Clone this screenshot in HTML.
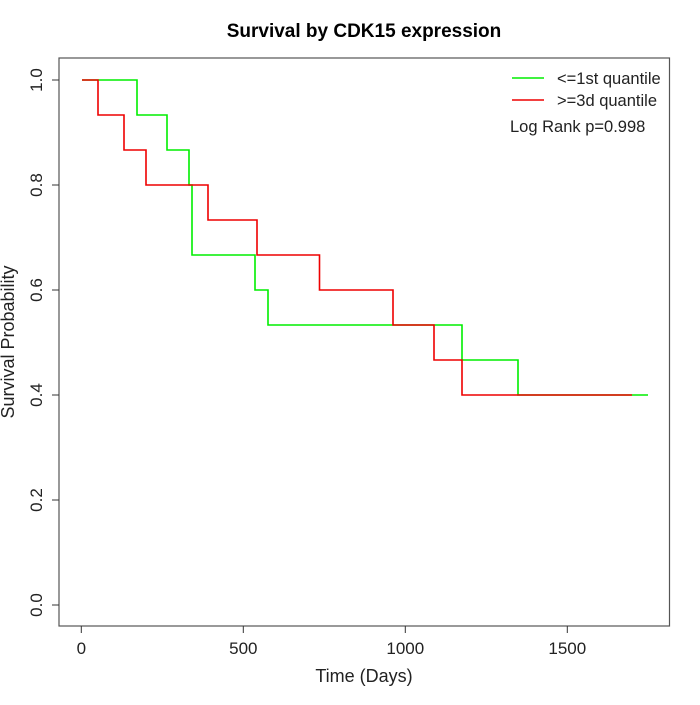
<!DOCTYPE html>
<html><head><style>body{margin:0;background:#fff}</style></head><body>
<svg width="700" height="700" viewBox="0 0 700 700" xmlns="http://www.w3.org/2000/svg" font-family="Liberation Sans, sans-serif">
<rect width="700" height="700" fill="#fff"/>
<text x="364" y="37" text-anchor="middle" font-size="19" font-weight="bold">Survival by CDK15 expression</text>
<rect x="59" y="58" width="610.5" height="568" fill="none" stroke="#555" stroke-width="1.2"/>
<g stroke="#333" stroke-width="1">
<line x1="81.3" y1="626" x2="81.3" y2="633"/><line x1="243.3" y1="626" x2="243.3" y2="633"/><line x1="405.3" y1="626" x2="405.3" y2="633"/><line x1="567.3" y1="626" x2="567.3" y2="633"/>
<line x1="52" y1="80" x2="59" y2="80"/><line x1="52" y1="185" x2="59" y2="185"/><line x1="52" y1="290" x2="59" y2="290"/><line x1="52" y1="395" x2="59" y2="395"/><line x1="52" y1="500" x2="59" y2="500"/><line x1="52" y1="605" x2="59" y2="605"/>
</g>
<g font-size="17" text-anchor="middle" fill="#222">
<text x="81.3" y="654">0</text><text x="243.3" y="654">500</text><text x="405.3" y="654">1000</text><text x="567.3" y="654">1500</text>
<text transform="translate(42,80) rotate(-90)">1.0</text>
<text transform="translate(42,185) rotate(-90)">0.8</text>
<text transform="translate(42,290) rotate(-90)">0.6</text>
<text transform="translate(42,395) rotate(-90)">0.4</text>
<text transform="translate(42,500) rotate(-90)">0.2</text>
<text transform="translate(42,605) rotate(-90)">0.0</text>
</g>
<text x="364" y="682" text-anchor="middle" font-size="18" fill="#222">Time (Days)</text>
<text transform="translate(14,342) rotate(-90)" text-anchor="middle" font-size="18" fill="#222">Survival Probability</text>
<polyline fill="none" stroke="#00ee00" stroke-width="1.6" points="82,80 137,80 137,115 167,115 167,150 189,150 189,185 192,185 192,255 255,255 255,290 268,290 268,325 462,325 462,360 518,360 518,395 648,395"/>
<polyline fill="none" stroke="#ee0000" stroke-width="1.6" points="82,80 98,80 98,115 124,115 124,150 146,150 146,185 208,185 208,220 257,220 257,255 319.5,255 319.5,290 393,290 393,325 434,325 434,360 462,360 462,395 632,395"/>
<line x1="512" y1="78" x2="544" y2="78" stroke="#00ee00" stroke-width="1.6"/>
<line x1="512" y1="100" x2="544" y2="100" stroke="#ee0000" stroke-width="1.6"/>
<g font-size="16.5" fill="#222">
<text x="557" y="84">&lt;=1st quantile</text>
<text x="557" y="106">&gt;=3d quantile</text>
<text x="510" y="132">Log Rank p=0.998</text>
</g>
</svg>
</body></html>
